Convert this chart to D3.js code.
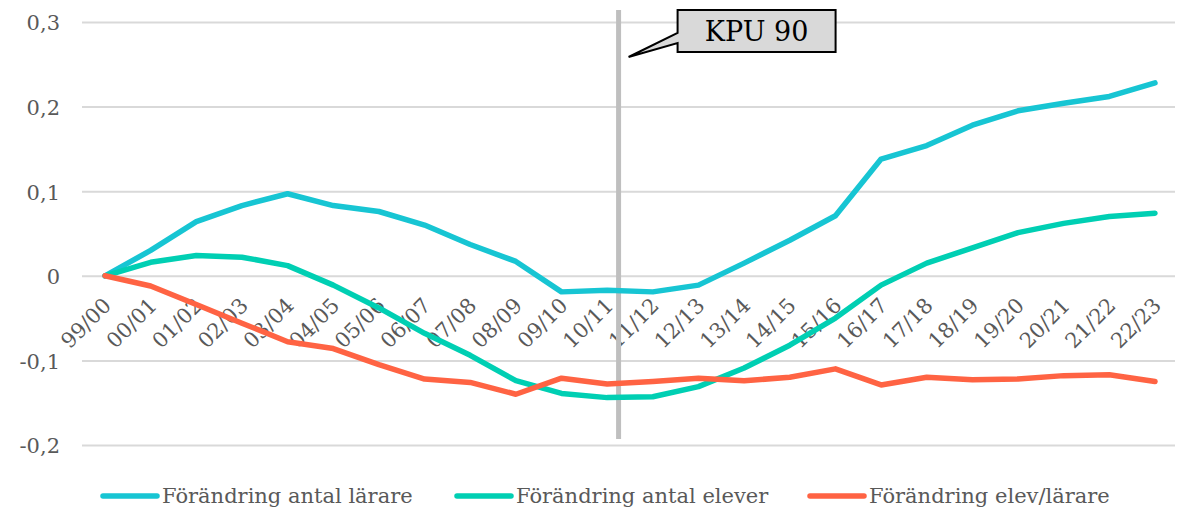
<!DOCTYPE html>
<html><head><meta charset="utf-8">
<script src="https://cdn.jsdelivr.net/npm/d3@7"></script>
<style>
html,body{margin:0;padding:0;background:#fff;}
text{font-family:"DejaVu Serif",Georgia,serif;}
</style></head>
<body><svg id="chart" width="1179" height="519"></svg>
<script>
const categories = ["99/00","00/01","01/02","02/03","03/04","04/05","05/06","06/07","07/08","08/09","09/10","10/11","11/12","12/13","13/14","14/15","15/16","16/17","17/18","18/19","19/20","20/21","21/22","22/23"];
const antalLarare = [0,0.030,0.064,0.083,0.097,0.083,0.076,0.060,0.037,0.017,-0.019,-0.017,-0.019,-0.011,0.015,0.042,0.071,0.138,0.154,0.178,0.195,0.204,0.212,0.228];
const antalElever = [0,0.016,0.024,0.022,0.012,-0.011,-0.038,-0.068,-0.094,-0.124,-0.139,-0.144,-0.143,-0.131,-0.109,-0.082,-0.050,-0.011,0.015,0.033,0.051,0.062,0.070,0.074];
const elevLarare = [0,-0.012,-0.034,-0.056,-0.078,-0.086,-0.105,-0.122,-0.126,-0.140,-0.121,-0.128,-0.125,-0.121,-0.124,-0.120,-0.110,-0.129,-0.120,-0.123,-0.122,-0.118,-0.117,-0.125];
const yTicks = [-0.2,-0.1,0,0.1,0.2,0.3];
const seriesNames = ["Förändring antal lärare","Förändring antal elever","Förändring elev/lärare"];
const seriesColors = ["#17c5d3","#00cfb3","#ff6343"];
const kpuIndex = 11.25;
const kpuLabel = "KPU 90";

const series = [antalLarare, antalElever, elevLarare];
const svg = d3.select("#chart");
const x = d3.scalePoint().domain(categories).range([105,1155]);
const xi = d3.scaleLinear().domain([0,categories.length-1]).range([105,1155]);
const y = d3.scaleLinear().domain([-0.2,0.3]).range([445,22]);
const fmt = v => (v===0 ? "0" : d3.format(".1f")(v).replace(".",",").replace("−","-"));
const FS = 21;

// grid + y labels
const gy = svg.append("g").attr("transform","translate(82,0)")
  .call(d3.axisLeft(y).tickValues(yTicks).tickSize(0).tickPadding(22).tickFormat(fmt));
gy.select(".domain").remove();
gy.selectAll(".tick line").attr("stroke","#d9d9d9").attr("stroke-width",2).attr("x1",0).attr("x2",1093);
gy.selectAll(".tick text").attr("fill","#595959").attr("font-size",FS).attr("dy","0.38em")
  .style("font-family","'DejaVu Serif',serif");

// x labels
const gx = svg.append("g").attr("transform",`translate(0,${y(0)})`)
  .call(d3.axisBottom(x).tickSize(0).tickPadding(0));
gx.select(".domain").remove();
gx.selectAll(".tick text").attr("fill","#595959").attr("font-size",FS)
  .style("font-family","'DejaVu Serif',serif")
  .attr("text-anchor","end").attr("dy",null).attr("y",null)
  .attr("transform","translate(7,31) rotate(-45)");

// KPU vertical line
svg.append("line").attr("x1",xi(kpuIndex)).attr("x2",xi(kpuIndex))
  .attr("y1",10).attr("y2",439).attr("stroke","#bfbfbf").attr("stroke-width",5);

// lines
const line = d3.line().x((d,i)=>x(categories[i])).y(d=>y(d));
series.forEach((s,k)=>{
  svg.append("path").datum(s).attr("d",line).attr("fill","none")
    .attr("stroke",seriesColors[k]).attr("stroke-width",5.5)
    .attr("stroke-linejoin","round").attr("stroke-linecap","round");
});

// callout
const kx = xi(kpuIndex);
const bx = kx+59, by = 10, bw = 158, bh = 42;
svg.append("path")
  .attr("d",`M${bx},${by} H${bx+bw} V${by+bh} H${bx} V${by+33} L${kx+10},${by+47} L${bx},${by+23} Z`)
  .attr("fill","#d9d9d9").attr("stroke","#000").attr("stroke-width",2).attr("stroke-linejoin","miter");
svg.append("text").attr("x",bx+bw/2).attr("y",by+31).attr("text-anchor","middle")
  .attr("font-size",27).attr("fill","#000").text(kpuLabel);

// legend
const legX = [103,457,810];
const lg = svg.append("g");
seriesNames.forEach((n,k)=>{
  lg.append("line").attr("x1",legX[k]).attr("x2",legX[k]+54).attr("y1",496).attr("y2",496)
    .attr("stroke",seriesColors[k]).attr("stroke-width",5.5).attr("stroke-linecap","round");
  lg.append("text").attr("x",legX[k]+59).attr("y",503).attr("font-size",FS)
    .attr("fill","#595959").text(n);
});
</script></body></html>
